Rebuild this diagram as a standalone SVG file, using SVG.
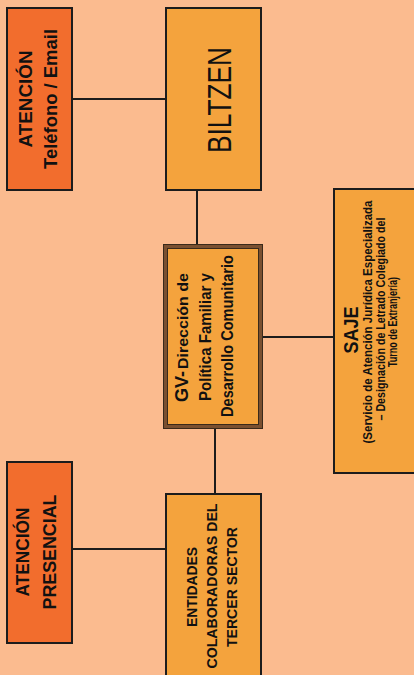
<svg xmlns="http://www.w3.org/2000/svg" width="414" height="675" viewBox="0 0 414 675">
<style>
.bg{fill:#FBBB8F}
.dark{fill:#F26D2D;stroke:#1c1c1c;stroke-width:2}
.mid{fill:#F4A33D;stroke:#1c1c1c;stroke-width:2}
.conn line{stroke:#1c1c1c;stroke-width:2}
text{font-family:"Liberation Sans",Arial,sans-serif;fill:#111;font-weight:bold;text-anchor:middle}
.reg{font-weight:normal}
</style>
<rect class="bg" x="0" y="0" width="414" height="675"/>
<g id="connectors" class="conn">
<line x1="72" y1="99" x2="166" y2="99"/>
<line x1="197" y1="190" x2="197" y2="245"/>
<line x1="262" y1="337" x2="334" y2="337"/>
<line x1="215" y1="428" x2="215" y2="494"/>
<line x1="72" y1="549" x2="166" y2="549"/>
</g>
<g id="atencion-telefono">
<rect class="dark" x="7" y="8" width="65" height="182"/>
<text font-size="18.5" transform="translate(32,99) rotate(-90)" textLength="97" lengthAdjust="spacingAndGlyphs">ATENCIÓN</text>
<text font-size="18.5" transform="translate(57,99) rotate(-90)" textLength="140" lengthAdjust="spacingAndGlyphs">Teléfono / Email</text>
</g>
<g id="biltzen">
<rect class="mid" x="166" y="8" width="95" height="182"/>
<text class="reg" font-size="34" transform="translate(231,100) rotate(-90)" textLength="106" lengthAdjust="spacingAndGlyphs">BILTZEN</text>
</g>
<g id="gv">
<rect x="165.5" y="246.5" width="95" height="180" fill="#F4A33D" stroke="#7A5030" stroke-width="3.5"/>
<rect x="163.5" y="244.5" width="99" height="184" fill="none" stroke="#3a2a1a" stroke-width="1"/>
<rect x="167.5" y="248.5" width="91" height="176" fill="none" stroke="#3a2a1a" stroke-width="1"/>
<text font-size="19" style="text-anchor:start" transform="translate(188,402) rotate(-90)" textLength="31" lengthAdjust="spacingAndGlyphs">GV-</text>
<text font-size="14" style="text-anchor:start" transform="translate(188,369) rotate(-90)" textLength="96" lengthAdjust="spacingAndGlyphs">Dirección de</text>
<text font-size="16.5" transform="translate(211,337) rotate(-90)" textLength="128" lengthAdjust="spacingAndGlyphs">Política Familiar y</text>
<text font-size="16.5" transform="translate(233,336) rotate(-90)" textLength="162" lengthAdjust="spacingAndGlyphs">Desarrollo Comunitario</text>
</g>
<g id="saje">
<rect class="mid" x="334" y="189" width="90" height="284"/>
<text font-size="21" transform="translate(358,330) rotate(-90)" textLength="47" lengthAdjust="spacingAndGlyphs">SAJE</text>
<text font-size="12.5" transform="translate(372,322) rotate(-90)" textLength="243" lengthAdjust="spacingAndGlyphs">(Servicio de Atención Jurídica Especializada</text>
<text font-size="12.5" transform="translate(385,319) rotate(-90)" textLength="203" lengthAdjust="spacingAndGlyphs">– Designación de Letrado Colegiado del</text>
<text font-size="12.5" transform="translate(397,322) rotate(-90)" textLength="90" lengthAdjust="spacingAndGlyphs">Turno de Extranjería)</text>
</g>
<g id="atencion-presencial">
<rect class="dark" x="7" y="462" width="65" height="181"/>
<text font-size="18" transform="translate(29,552) rotate(-90)" textLength="89" lengthAdjust="spacingAndGlyphs">ATENCIÓN</text>
<text font-size="18" transform="translate(56,552) rotate(-90)" textLength="115" lengthAdjust="spacingAndGlyphs">PRESENCIAL</text>
</g>
<g id="entidades">
<rect class="mid" x="166" y="494" width="95" height="190"/>
<text font-size="15.5" transform="translate(197,587) rotate(-90)" textLength="80" lengthAdjust="spacingAndGlyphs">ENTIDADES</text>
<text font-size="15.5" transform="translate(217,586) rotate(-90)" textLength="165" lengthAdjust="spacingAndGlyphs">COLABORADORAS DEL</text>
<text font-size="15.5" transform="translate(237,587) rotate(-90)" textLength="120" lengthAdjust="spacingAndGlyphs">TERCER SECTOR</text>
</g>
</svg>
